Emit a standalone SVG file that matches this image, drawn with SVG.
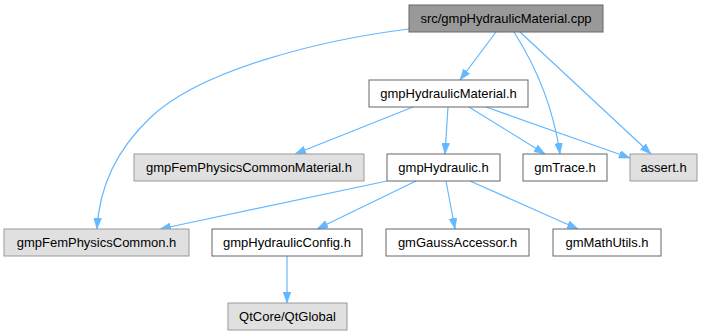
<svg xmlns="http://www.w3.org/2000/svg" width="705" height="336" viewBox="0 0 705 336">
<style>
.n rect{fill:#ffffff;stroke:#666666;stroke-width:1}
.g rect{fill:#e0e0e0;stroke:#999999;stroke-width:1}
.r rect{fill:#999999;stroke:#666666;stroke-width:1}
text{font-family:"Liberation Sans",Arial,sans-serif;font-size:13px;fill:#000000;text-anchor:middle}
#edges path{fill:none;stroke:#63b8ff;stroke-width:1.2;marker-end:url(#ah)}
</style>
<defs>
<marker id="ah" markerUnits="userSpaceOnUse" markerWidth="11" markerHeight="8" refX="11" refY="4" orient="auto">
<path d="M0,0 L11,4 L0,8 z" fill="#63b8ff" stroke="#63b8ff" stroke-width="0.5"/>
</marker>
</defs>
<rect width="705" height="336" fill="#ffffff"/>
<g id="edges">
<path d="M496,32 L460,80"/>
<path d="M409,29 C320,40 200,70 150,118 C112,154 99,192 97,229"/>
<path d="M514,32 C535,65 553,105 560,154"/>
<path d="M520,32 L651,154"/>
<path d="M413,107 L295,154"/>
<path d="M448,107 L445,154"/>
<path d="M469,107 L545,154"/>
<path d="M486,107 L630,158"/>
<path d="M387,181 L160,229"/>
<path d="M416,181 L317,229"/>
<path d="M446,181 L455,229"/>
<path d="M470,181 L578,229"/>
<path d="M287,256 L287,303"/>
</g>
<g id="node_root" class="r"><rect x="409" y="5" width="194" height="27"/><text x="506" y="23">src/gmpHydraulicMaterial.cpp</text></g>
<g id="node_gmpHydraulicMaterial_h" class="n"><rect x="369" y="80" width="159" height="27"/><text x="448.5" y="98">gmpHydraulicMaterial.h</text></g>
<g id="node_gmpFemPhysicsCommonMaterial_h" class="g"><rect x="134" y="154" width="230" height="27"/><text x="249" y="172">gmpFemPhysicsCommonMaterial.h</text></g>
<g id="node_gmpHydraulic_h" class="n"><rect x="387" y="154" width="113" height="27"/><text x="443.5" y="172">gmpHydraulic.h</text></g>
<g id="node_gmTrace_h" class="n"><rect x="523" y="154" width="84" height="27"/><text x="565" y="172">gmTrace.h</text></g>
<g id="node_assert_h" class="g"><rect x="630" y="154" width="67" height="27"/><text x="663.5" y="172">assert.h</text></g>
<g id="node_gmpFemPhysicsCommon_h" class="g"><rect x="4" y="229" width="185" height="27"/><text x="96.5" y="247">gmpFemPhysicsCommon.h</text></g>
<g id="node_gmpHydraulicConfig_h" class="n"><rect x="212" y="229" width="150" height="27"/><text x="287" y="247">gmpHydraulicConfig.h</text></g>
<g id="node_gmGaussAccessor_h" class="n"><rect x="386" y="229" width="143" height="27"/><text x="457.5" y="247">gmGaussAccessor.h</text></g>
<g id="node_gmMathUtils_h" class="n"><rect x="553" y="229" width="108" height="27"/><text x="607" y="247">gmMathUtils.h</text></g>
<g id="node_QtGlobal" class="g"><rect x="228" y="303" width="119" height="27"/><text x="287.5" y="321">QtCore/QtGlobal</text></g>
</svg>
